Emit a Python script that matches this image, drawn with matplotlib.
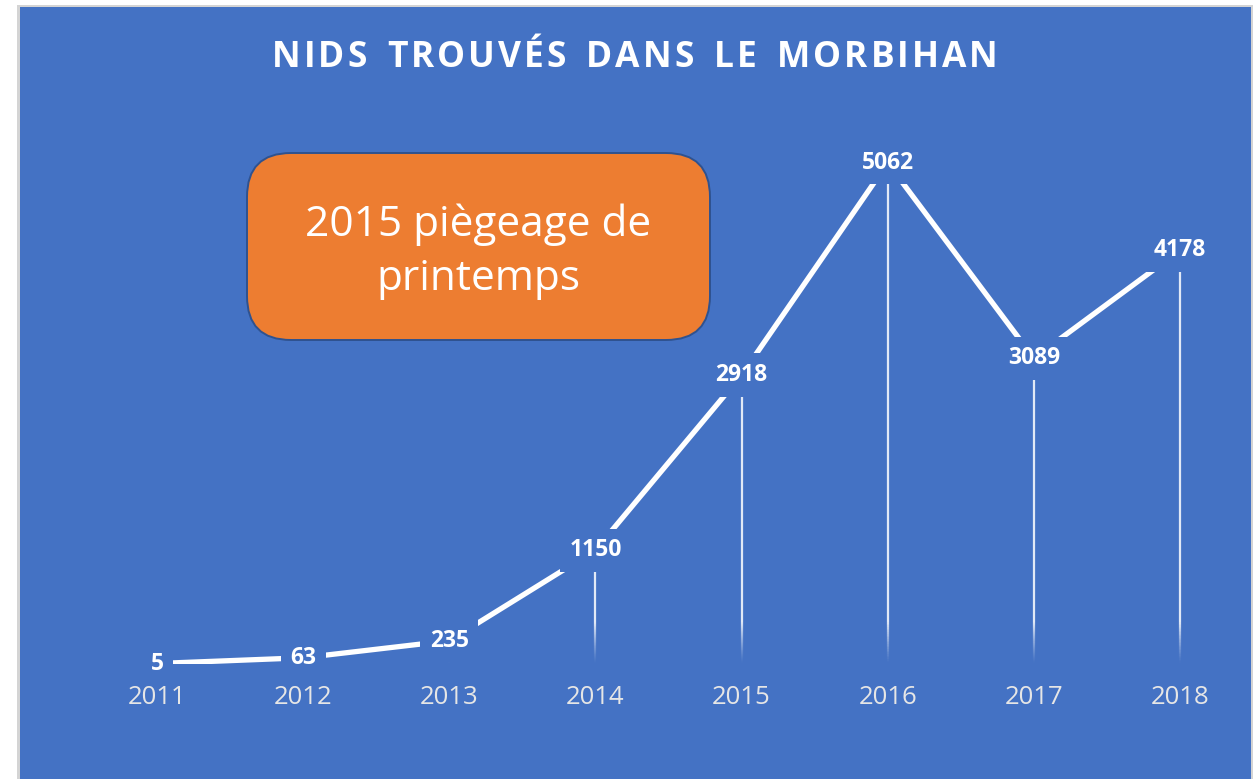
import matplotlib
matplotlib.use("Agg")
import matplotlib.pyplot as plt
import numpy as np
from matplotlib.patches import Rectangle, FancyBboxPatch
from matplotlib.collections import LineCollection

years = ["2011", "2012", "2013", "2014", "2015", "2016", "2017", "2018"]
nests = [5, 63, 235, 1150, 2918, 5062, 3089, 4178]
title = "NIDS TROUVÉS DANS LE MORBIHAN"
note = "2015 piègeage de\nprintemps"

BLUE = "#4472C4"
ORANGE = "#ED7D31"
EDGE = "#2F528F"
FONT = "Open Sans"

W, H = 1258, 779
fig = plt.figure(figsize=(W / 100, H / 100), dpi=100)
fig.patch.set_facecolor("white")

# chart area background with light grey frame
fig.patches.append(Rectangle((17 / W, 0), (1253 - 17) / W, (H - 5) / H,
                             transform=fig.transFigure, facecolor="#D4D4D4",
                             edgecolor="none", zorder=-2))
fig.patches.append(Rectangle((20 / W, 0), (1251 - 20) / W, (H - 7) / H,
                             transform=fig.transFigure, facecolor=BLUE,
                             edgecolor="none", zorder=-1))

# axes geometry (pixels)
x0, dx = 157, (1180 - 157) / 7
left_px, right_px = x0 - 0.5 * dx, x0 + 7.5 * dx
base_px, top_val = 664, 6000
px_per = 0.0990
top_px = base_px - top_val * px_per
ax = fig.add_axes([left_px / W, (H - base_px) / H,
                   (right_px - left_px) / W, (base_px - top_px) / H])
ax.set_zorder(2)
ax.set_xlim(-0.5, 7.5)
ax.set_ylim(0, top_val)
ax.patch.set_visible(False)
for s in ax.spines.values():
    s.set_visible(False)
ax.set_yticks([])

x = np.arange(len(years))

# fading drop lines
fade = 420.0
for xi, v in zip(x, nests):
    ys = np.linspace(0, v, 300)
    segs = [[(xi, ys[i]), (xi, ys[i + 1])] for i in range(len(ys) - 1)]
    alphas = [min(1.0, ys[i] / fade) ** 1.3 * 0.85 for i in range(len(ys) - 1)]
    cols = [(1, 1, 1, a) for a in alphas]
    ax.add_collection(LineCollection(segs, colors=cols, linewidths=1.6,
                                     capstyle="butt", zorder=2))

ax.plot(x, nests, color="white", lw=3.8, solid_capstyle="butt", zorder=3)

for xi, v in zip(x, nests):
    ax.text(xi, v, str(v), ha="center", va="center", color="white",
            fontsize=16.5, fontweight="bold", family=FONT, zorder=5,
            bbox=dict(boxstyle="square,pad=0.42", facecolor=BLUE, edgecolor="none"))

ax.set_xticks(x)
ax.set_xticklabels(years, family=FONT, fontsize=18.5, color="#E6E6E6")
ax.tick_params(axis="x", length=0, pad=15)

# title with letter spacing
renderer = fig.canvas.get_renderer()
tsize, spacing = 25.5, 3.0
widths = []
for ch in title:
    t = fig.text(0, 0, ch if ch != " " else "N", fontsize=tsize, fontweight="bold", family=FONT)
    bb = t.get_window_extent(renderer)
    widths.append(bb.width * (0.5 if ch == " " else 1.0))
    t.remove()
total = sum(widths) + spacing * (len(title) - 1)
cx = 635 - total / 2
for ch, w in zip(title, widths):
    if ch != " ":
        fig.text(cx / W, 1 - 58 / H, ch, fontsize=tsize, fontweight="bold",
                 family=FONT, color="white", ha="left", va="center")
    cx += w + spacing

# orange annotation box
bx0, by0, bx1, by1 = 247, 153, 710, 340
fig.patches.append(FancyBboxPatch((bx0 / W, 1 - by1 / H), (bx1 - bx0) / W, (by1 - by0) / H,
                                  boxstyle="round,pad=0,rounding_size=0.035",
                                  mutation_aspect=W / H,
                                  transform=fig.transFigure, facecolor=ORANGE,
                                  edgecolor=EDGE, linewidth=1.4, zorder=6))
fig.text((bx0 + bx1) / 2 / W, 1 - 252 / H, note, ha="center", va="center",
         color="white", fontsize=30.5, family=FONT, linespacing=1.38, zorder=7)

fig.savefig("out.png", dpi=100, facecolor=fig.get_facecolor())
